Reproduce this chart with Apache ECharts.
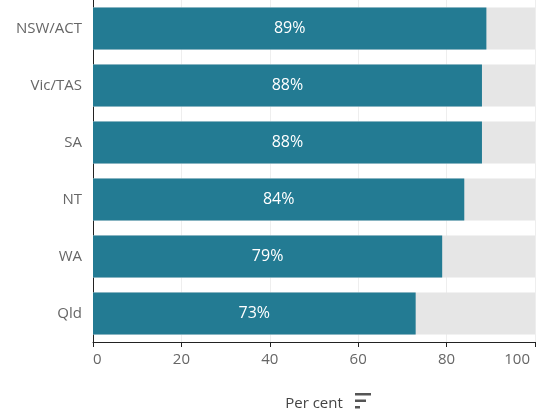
<!DOCTYPE html>
<html>
<head>
<meta charset="utf-8">
<script src="https://cdn.jsdelivr.net/npm/echarts@6/dist/echarts.min.js"></script>
<style>
  html, body { margin: 0; padding: 0; background: #fff; }
  #chart { width: 540px; height: 415px; }
</style>
</head>
<body>
<div id="chart"></div>
<script>
// Share of respondents by state/territory (per cent)
const regions = ['NSW/ACT', 'Vic/TAS', 'SA', 'NT', 'WA', 'Qld'];
const percentValues = [89, 88, 88, 84, 79, 73];
const xTicks = [0, 20, 40, 60, 80, 100];

const FONT = 'Open Sans, Lato, sans-serif';
const chart = echarts.init(document.getElementById('chart'), null, { renderer: 'canvas' });

chart.setOption({
  animation: false,
  grid: { left: 93, right: 5, top: 0, height: 342, containLabel: false, outerBoundsMode: 'none' },
  xAxis: {
    type: 'value',
    min: xTicks[0],
    max: xTicks[xTicks.length - 1],
    interval: xTicks[1] - xTicks[0],
    name: 'Per cent',
    nameLocation: 'middle',
    nameGap: 54,
    nameTextStyle: { color: '#444', fontSize: 15, fontFamily: FONT },
    axisLine: { show: true, lineStyle: { color: '#222', width: 1 } },
    axisTick: { show: true, length: 5, lineStyle: { color: '#222' } },
    axisLabel: {
      color: '#666', fontSize: 15, fontFamily: FONT, margin: 10,
      alignMinLabel: 'left', alignMaxLabel: 'right',
      formatter: v => (v === xTicks[xTicks.length - 1] ? '{last|' + v + '}' : String(v)),
      rich: { last: { color: '#666', fontSize: 15, fontFamily: FONT, padding: [0, 5, 0, 0] } }
    },
    splitLine: { show: true, lineStyle: { color: '#eeeeee', width: 1 } }
  },
  yAxis: {
    type: 'category',
    data: regions,
    inverse: true,
    axisLine: { show: true, lineStyle: { color: '#222', width: 1 } },
    axisTick: { show: false },
    axisLabel: { color: '#666', fontSize: 15, fontFamily: FONT, margin: 11 }
  },
  series: [{
    type: 'bar',
    data: percentValues,
    barWidth: 42,
    itemStyle: { color: '#237b93' },
    showBackground: true,
    backgroundStyle: { color: '#e6e6e6' },
    label: {
      show: true,
      position: 'inside',
      color: '#ffffff',
      fontSize: 16,
      fontWeight: 500,
      fontFamily: FONT,
      formatter: p => p.value + '%'
    }
  }],
  graphic: [{
    // sort indicator beside the axis title
    type: 'group',
    left: 355,
    top: 393,
    children: [
      { type: 'rect', shape: { x: 0, y: 0, width: 16, height: 2.5 }, style: { fill: '#555' } },
      { type: 'rect', shape: { x: 0, y: 6.5, width: 11, height: 2.5 }, style: { fill: '#555' } },
      { type: 'rect', shape: { x: 0, y: 13, width: 5, height: 2.5 }, style: { fill: '#555' } }
    ]
  }]
});
</script>
</body>
</html>
